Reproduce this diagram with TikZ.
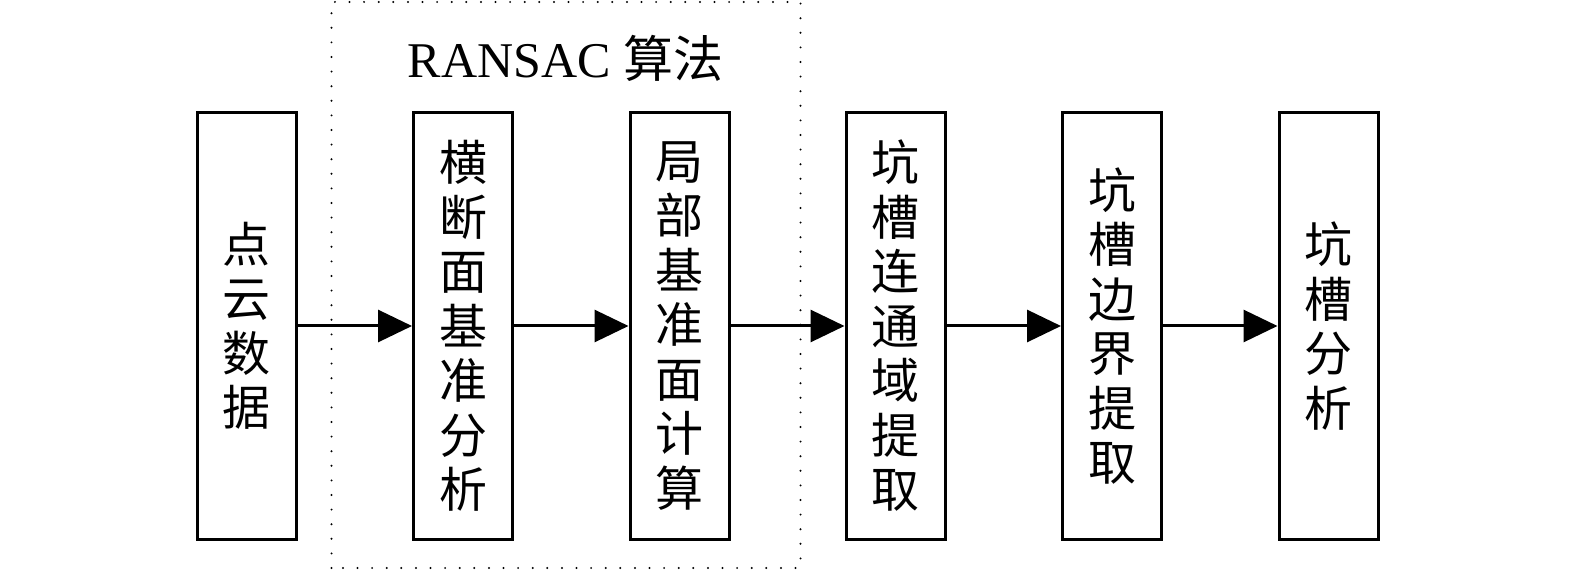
\documentclass[tikz,border=0pt]{standalone}
\usepackage{fontspec}
\setmainfont{Liberation Serif}
\newfontfamily\cjk{Noto Sans CJK SC}
\usetikzlibrary{arrows.meta}
\begin{document}
\begin{tikzpicture}[x=1pt,y=1pt,
  stepbox/.style={draw=black,line width=3pt,minimum width=99pt,minimum height=426pt,inner sep=0pt,
    align=center,font=\cjk\fontsize{48}{54.5}\selectfont},
  flow/.style={line width=3pt,-{Triangle[length=34pt,width=32pt]}},
  group/.style={draw=black,line width=2.2pt,dash pattern=on 0pt off 14.6pt,line cap=round}]
\useasboundingbox (0,0) rectangle (1575,571);
\node[stepbox] (b1) at (246.5,245) {点\\云\\数\\据};
\node[stepbox] (b2) at (463,245) {横\\断\\面\\基\\准\\分\\析};
\node[stepbox] (b3) at (679.5,245) {局\\部\\基\\准\\面\\计\\算};
\node[stepbox] (b4) at (895.5,245) {坑\\槽\\连\\通\\域\\提\\取};
\node[stepbox] (b5) at (1112,245) {坑\\槽\\边\\界\\提\\取};
\node[stepbox] (b6) at (1328.5,245) {坑\\槽\\分\\析};
\draw[group] (331.5,3) rectangle (800.5,569);
\node[font=\fontsize{50}{55}\selectfont] (t) at (565.5,513) {RANSAC {\cjk 算法}};
\draw[flow] (b1.east) -- (b2.west);
\draw[flow] (b2.east) -- (b3.west);
\draw[flow] (b3.east) -- (b4.west);
\draw[flow] (b4.east) -- (b5.west);
\draw[flow] (b5.east) -- (b6.west);
\end{tikzpicture}
\end{document}
